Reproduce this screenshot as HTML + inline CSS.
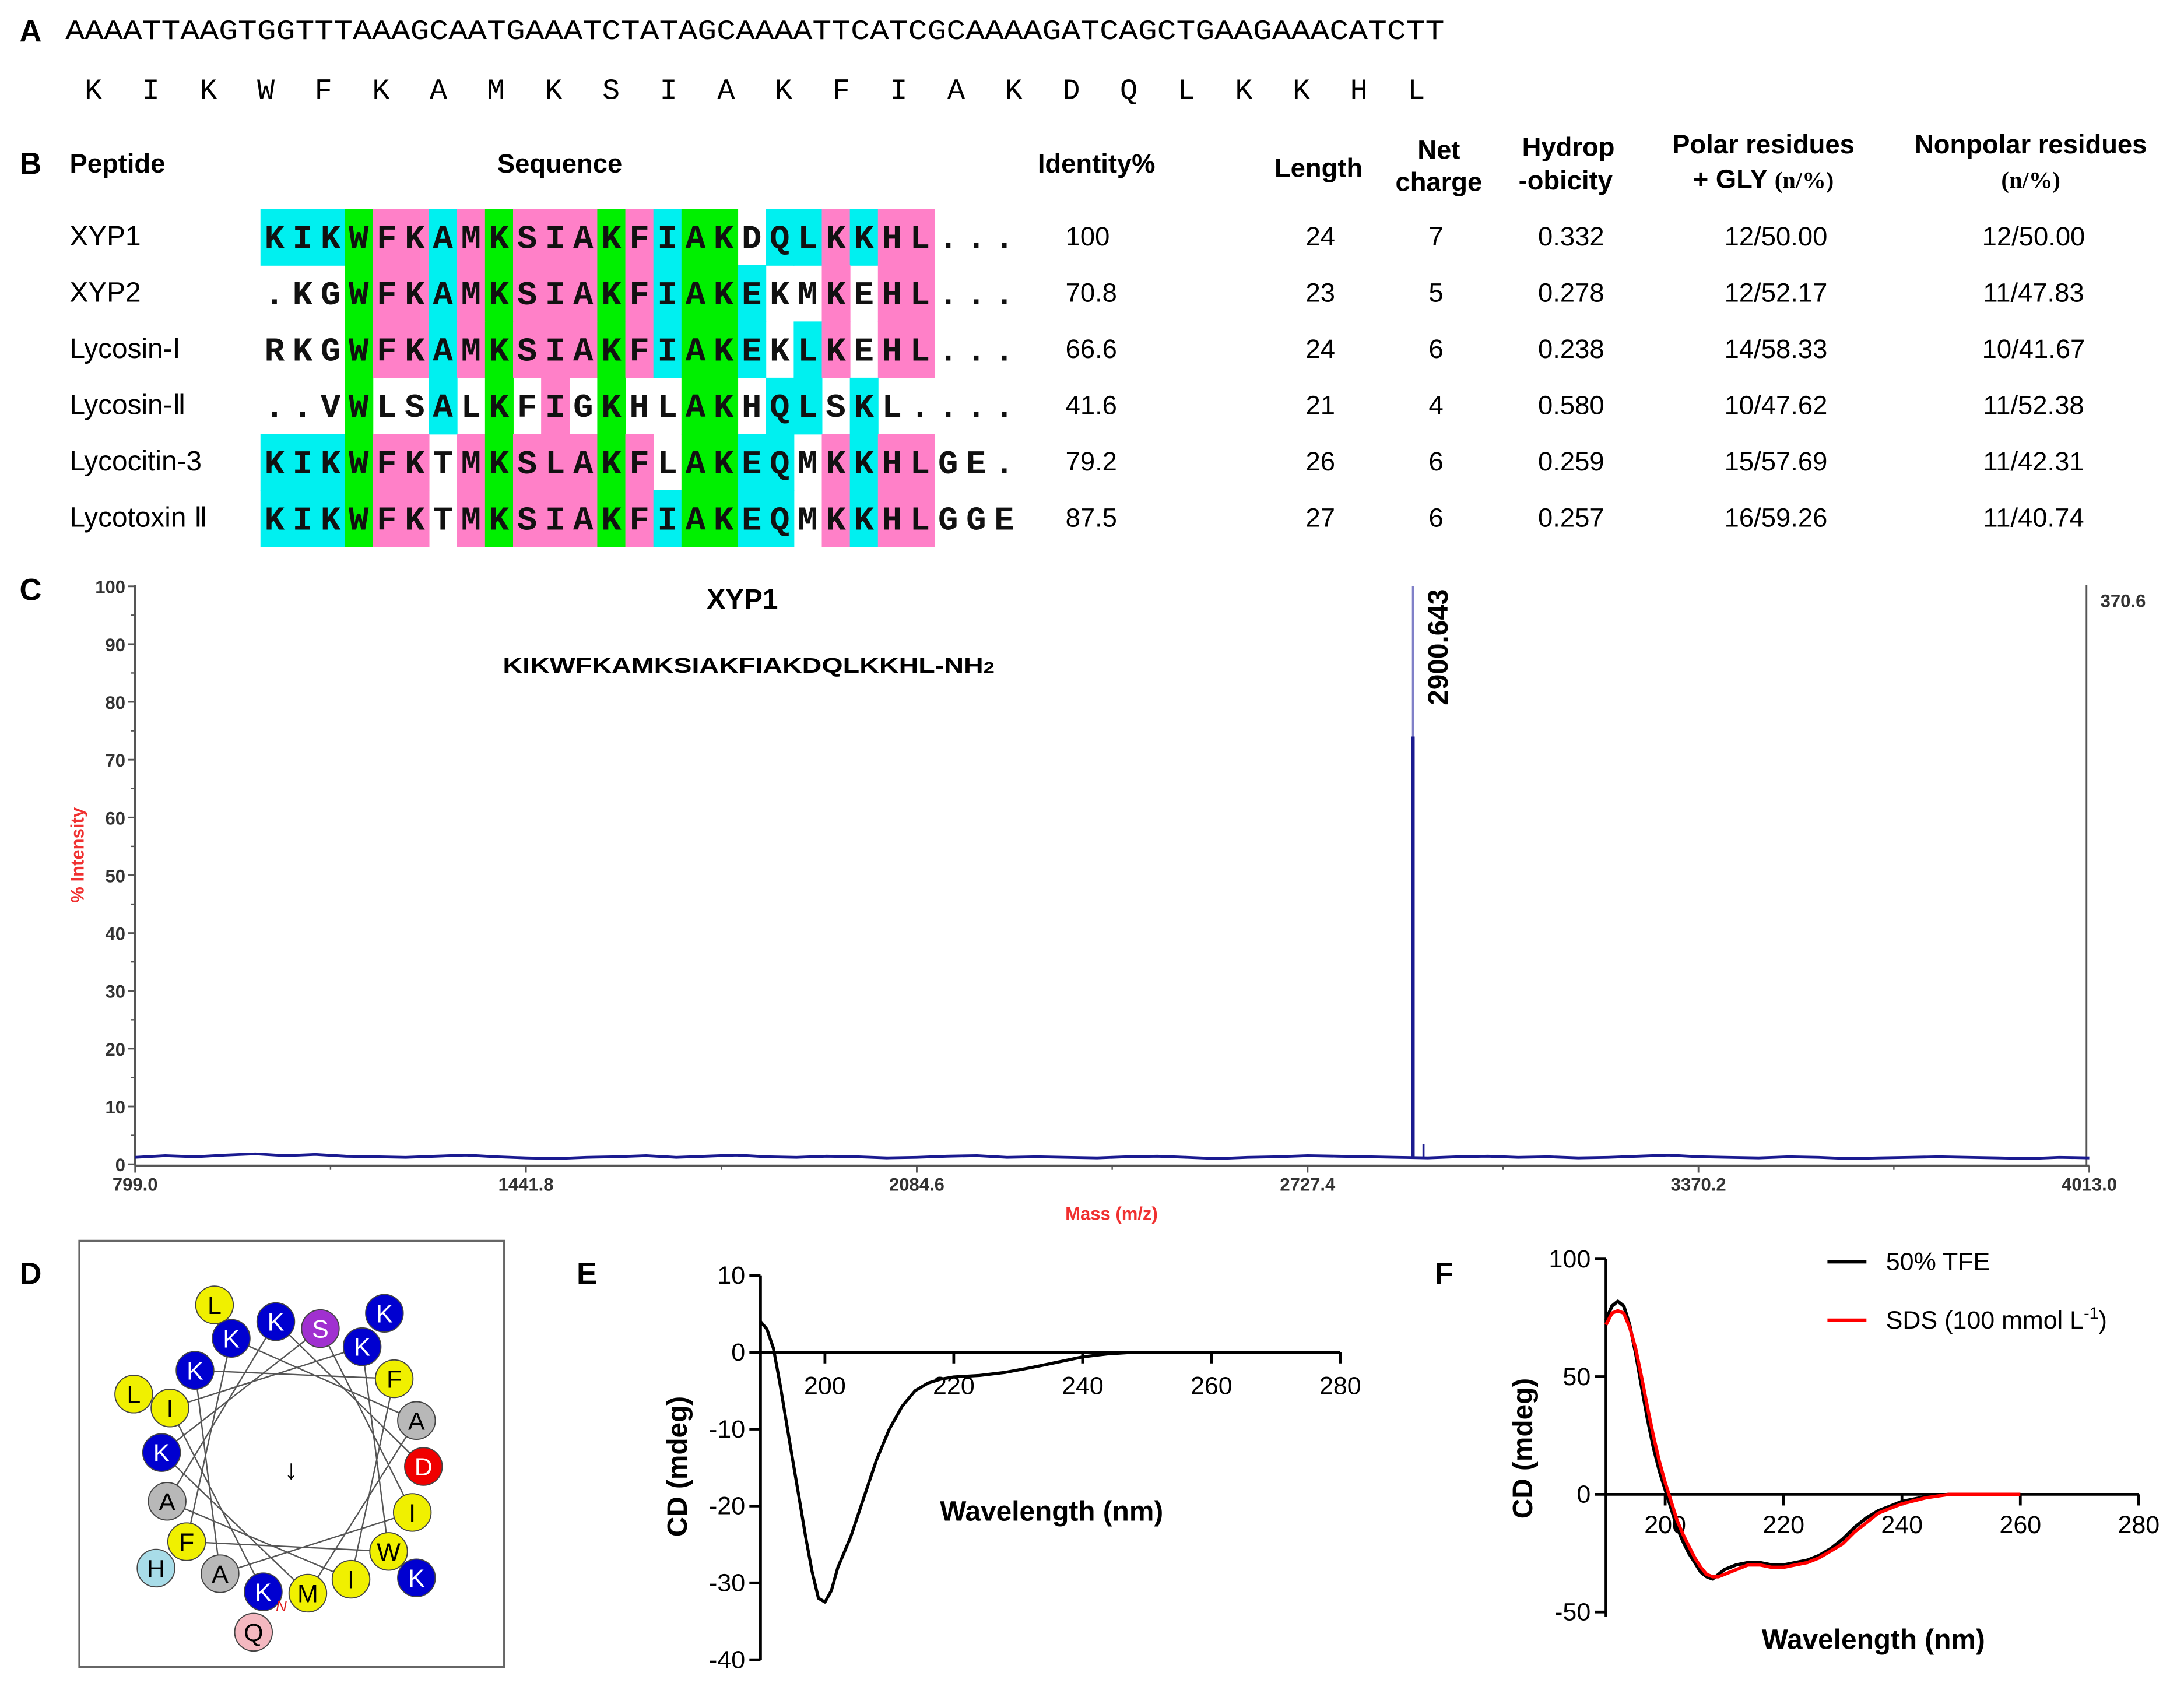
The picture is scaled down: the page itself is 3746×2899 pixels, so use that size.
<!DOCTYPE html>
<html><head><meta charset="utf-8">
<style>
html,body{margin:0;padding:0;background:#fff;}
svg{display:block;}
text{font-family:"Liberation Sans",Arial,sans-serif;}
.mono{font-family:"Liberation Mono","DejaVu Sans Mono",monospace;}
</style></head>
<body>
<svg id="fig" xmlns="http://www.w3.org/2000/svg" width="3746" height="2899" viewBox="0 0 1568 1213.5" preserveAspectRatio="none">
<rect width="1568" height="1214" fill="#fff"/>
<g>
<text x="14" y="30" font-size="22" font-weight="bold">A</text>
<text class="mono" x="47" y="28" font-size="20" textLength="990" lengthAdjust="spacingAndGlyphs">AAAATTAAGTGGTTTAAAGCAATGAAATCTATAGCAAAATTCATCGCAAAAGATCAGCTGAAGAAACATCTT</text>
<g id="protA"></g>
</g>
<g font-weight="bold">
<text x="14" y="125" font-size="22">B</text>
<text x="50" y="124" font-size="19">Peptide</text>
<text x="357" y="124" font-size="19">Sequence</text>
<text x="745" y="124" font-size="19">Identity%</text>
<text x="915" y="127" font-size="19">Length</text>
<text x="1033" y="114" font-size="19" text-anchor="middle"><tspan x="1033">Net</tspan><tspan x="1033" dy="23">charge</tspan></text>
<text x="1126" y="112" font-size="19" text-anchor="middle"><tspan x="1126">Hydrop</tspan><tspan x="1124" dy="24">-obicity</tspan></text>
<text x="1266" y="110" font-size="19" text-anchor="middle"><tspan x="1266">Polar residues</tspan><tspan x="1266" dy="25">+ GLY <tspan font-family="Liberation Serif" font-size="17">(n/%)</tspan></tspan></text>
<text x="1458" y="110" font-size="19" text-anchor="middle"><tspan x="1458">Nonpolar residues</tspan><tspan x="1458" dy="25" font-family="Liberation Serif" font-size="17">(n/%)</tspan></text>
<g id="alignment" font-weight="normal"></g>
</g>
<g id="panelC">
<text x="14" y="431" font-size="22" font-weight="bold">C</text>
<text x="533" y="437" font-size="20" font-weight="bold" text-anchor="middle">XYP1</text>
<text x="361" y="483" font-size="15" font-weight="bold" textLength="353" lengthAdjust="spacingAndGlyphs">KIKWFKAMKSIAKFIAKDQLKKHL-NH<tspan font-size="11">2</tspan></text>
<text transform="translate(60,614) rotate(-90)" font-size="13" font-weight="bold" fill="#f03030" text-anchor="middle">% Intensity</text>
<text x="798" y="876" font-size="13" font-weight="bold" fill="#f03030" text-anchor="middle">Mass (m/z)</text>
<text x="1508" y="436" font-size="13" font-weight="bold" fill="#333">370.6</text>
</g>
<g id="panelD">
<text x="14" y="922" font-size="22" font-weight="bold">D</text>
<rect x="57" y="891" width="305" height="306" fill="none" stroke="#666" stroke-width="1.5"/>
<text x="209" y="1062" font-size="20" text-anchor="middle">↓</text>
</g>
<g id="panelE">
<text x="414" y="922" font-size="22" font-weight="bold">E</text>
<text transform="translate(493,1053) rotate(-90)" font-size="20" font-weight="bold" text-anchor="middle">CD (mdeg)</text>
<text x="755" y="1092" font-size="20" font-weight="bold" text-anchor="middle">Wavelength (nm)</text>
</g>
<g id="panelF">
<text x="1030" y="922" font-size="22" font-weight="bold">F</text>
<text transform="translate(1100,1040) rotate(-90)" font-size="20" font-weight="bold" text-anchor="middle">CD (mdeg)</text>
<text x="1345" y="1184" font-size="20" font-weight="bold" text-anchor="middle">Wavelength (nm)</text>
<line x1="1312" y1="906" x2="1340" y2="906" stroke="#000" stroke-width="2.5"/>
<text x="1354" y="912" font-size="18">50% TFE</text>
<line x1="1312" y1="948" x2="1340" y2="948" stroke="#f00" stroke-width="2.5"/>
<text x="1354" y="954" font-size="18">SDS (100 mmol L<tspan font-size="12" dy="-7">-1</tspan><tspan dy="7">)</tspan></text>
</g>
</svg>
<script>
const proteinA = ["K","I","K","W","F","K","A","M","K","S","I","A","K","F","I","A","K","D","Q","L","K","K","H","L"];
const peptides = ["XYP1","XYP2","Lycosin-Ⅰ","Lycosin-Ⅱ","Lycocitin-3","Lycotoxin Ⅱ"];
const sequences = [
 "KIKWFKAMKSIAKFIAKDQLKKHL...",
 ".KGWFKAMKSIAKFIAKEKMKEHL...",
 "RKGWFKAMKSIAKFIAKEKLKEHL...",
 "..VWLSALKFIGKHLAKHQLSKL....",
 "KIKWFKTMKSLAKFLAKEQMKKHLGE.",
 "KIKWFKTMKSIAKFIAKEQMKKHLGGE"];
const shading = [
 "cccgppcpgpppgpcgg.cc pcpp...",
 "...gppcpgpppgpcggc..p.pp...",
 "...gppcpgpppgpcggc.cp.pp...",
 "...g..c.g.p.g..gg.cc.c.....",
 "cccgpp.pgpppgp.ggcc.pcpp...",
 "cccgpp.pgpppgpcggcc.pcpp..."];
const identity = ["100","70.8","66.6","41.6","79.2","87.5"];
const lengths = ["24","23","24","21","26","27"];
const netCharge = ["7","5","6","4","6","6"];
const hydrophobicity = ["0.332","0.278","0.238","0.580","0.259","0.257"];
const polar = ["12/50.00","12/52.17","14/58.33","10/47.62","15/57.69","16/59.26"];
const nonpolar = ["12/50.00","11/47.83","10/41.67","11/52.38","11/42.31","11/40.74"];

const msXTicks = [799.0,1441.8,2084.6,2727.4,3370.2,4013.0];
const msYTicks = [0,10,20,30,40,50,60,70,80,90,100];
const msPeakMass = [2900.643, 2918.0];
const msPeakIntensity = [100, 3.5];
const msBaseline = [1.2,1.5,1.3,1.6,1.8,1.5,1.7,1.4,1.3,1.2,1.4,1.6,1.3,1.1,1.0,1.2,1.3,1.5,1.2,1.4,1.6,1.3,1.2,1.4,1.3,1.1,1.2,1.4,1.5,1.2,1.3,1.2,1.1,1.3,1.4,1.2,1.0,1.2,1.3,1.5,1.4,1.3,1.2,1.1,1.3,1.4,1.2,1.3,1.1,1.2,1.4,1.6,1.3,1.2,1.1,1.3,1.2,1.0,1.1,1.2,1.3,1.2,1.1,1.0,1.2,1.1];

const eWave = [190,191,192,193,194,195,196,197,198,199,200,201,202,204,206,208,210,212,214,216,218,220,224,228,232,236,240,244,248,252,260];
const eCD = [4,3,0.5,-4,-9,-14,-19,-24,-28.5,-32,-32.5,-31,-28,-24,-19,-14,-10,-7,-5,-4,-3.5,-3.2,-3,-2.6,-2,-1.3,-0.6,-0.2,0,0,0];
const eXTicks = [200,220,240,260,280];
const eYTicks = [10,0,-10,-20,-30,-40];

const fWave = [190,191,192,193,194,195,196,197,198,199,200,201,202,203,204,205,206,207,208,209,210,212,214,216,218,220,222,224,226,228,230,232,234,236,238,240,244,248,252,256,260];
const fTFE = [74,80,82,80,72,60,46,32,20,10,2,-6,-14,-20,-25,-29,-33,-35,-36,-34,-32,-30,-29,-29,-30,-30,-29,-28,-26,-23,-19,-14,-10,-7,-5,-3,-1,0,0,0,0];
const fSDS = [72,77,78,77,71,62,50,37,25,14,5,-3,-11,-17,-22,-27,-31,-34,-35,-35,-34,-32,-30,-30,-31,-31,-30,-29,-27,-24,-21,-16,-12,-8,-6,-4,-1.5,0,0,0,0];
const fXTicks = [200,220,240,260,280];
const fYTicks = [100,50,0,-50];

const wheelResidues = ["K","I","K","W","F","K","A","M","K","S","I","A","K","F","I","A","K","D","Q","L","K","K","H","L"];
const wheelColors = ["#0000d0","#f0f000","#0000d0","#f0f000","#f0f000","#0000d0","#b8b8b8","#f0f000","#0000d0","#a030d0","#f0f000","#b8b8b8","#0000d0","#f0f000","#f0f000","#b8b8b8","#0000d0","#f00000","#f4b8c0","#f0f000","#0000d0","#0000d0","#a8dce8","#f0f000"];

const NS="http://www.w3.org/2000/svg";
function mk(tag, attrs, parent){const e=document.createElementNS(NS,tag);for(const k in attrs)e.setAttribute(k,attrs[k]);parent.appendChild(e);return e;}

const protA=document.getElementById('protA');
proteinA.forEach((aa,i)=>{
  const t=mk('text',{x:67+i*41.3,y:71,'font-size':21,'text-anchor':'middle','class':'mono'},protA);
  
  
  t.textContent=aa;
});

const al=document.getElementById('alignment');
const cellW=20.15, seqX=187, rowTop=150, rowH=40.4;
const colMap={c:"#00f0f0",g:"#00f000",p:"#ff80c8"};
sequences.forEach((seq,r)=>{
  const sh=shading[r].replace(/ /g,'');
  for(let i=0;i<seq.length;i++){
    const c=sh[i];
    if(colMap[c]){
      const rc=mk('rect',{x:seqX+i*cellW,y:rowTop+r*rowH,width:cellW+0.4,height:rowH+0.4,fill:colMap[c]},al);
      
      
    }
  }
});
sequences.forEach((seq,r)=>{
  const y=rowTop+r*rowH+rowH/2+8;
  for(let i=0;i<seq.length;i++){
    const t=mk('text',{x:seqX+i*cellW+cellW/2,y:y,'font-size':24,'font-weight':'bold','text-anchor':'middle','class':'mono',fill:'#111'},al);
    
    
    t.textContent=seq[i];
  }
  const cols=[[50,peptides[r],'start','peptide-name'],[765,identity[r],'start','identity-value'],[948,lengths[r],'middle','length-value'],[1031,netCharge[r],'middle','net-charge-value'],[1128,hydrophobicity[r],'middle','hydrophobicity-value'],[1275,polar[r],'middle','polar-value'],[1460,nonpolar[r],'middle','nonpolar-value']];
  cols.forEach(([x,txt,anc,nm])=>{
    const t=mk('text',{x:x,y:y-2,'font-size':nm==='peptide-name'?20:19,'text-anchor':anc},al);
    
    
    t.textContent=txt;
  });
});

const C=document.getElementById('panelC');
const msX=m=>97+(m-799)/(4013-799)*1403;
const msY=v=>836-v*4.15;
mk('line',{x1:97,y1:420,x2:97,y2:837,stroke:'#555','stroke-width':1.5},C);
mk('line',{x1:97,y1:837,x2:1500,y2:837,stroke:'#555','stroke-width':1.5},C);
mk('line',{x1:1498,y1:420,x2:1498,y2:837,stroke:'#555','stroke-width':1.2},C);
msYTicks.forEach(v=>{
  const l=mk('line',{x1:92,y1:msY(v),x2:97,y2:msY(v),stroke:'#555','stroke-width':1.2},C);
  
  
  if(v<100){mk('line',{x1:94,y1:msY(v+5),x2:97,y2:msY(v+5),stroke:'#555','stroke-width':1},C);}
  const t=mk('text',{x:90,y:msY(v)+5,'font-size':13,'font-weight':'bold','text-anchor':'end',fill:'#333'},C);
  
  
  t.textContent=v;
});
msXTicks.forEach((m,i)=>{
  const l=mk('line',{x1:msX(m),y1:837,x2:msX(m),y2:842,stroke:'#555','stroke-width':1.2},C);
  
  
  if(i<msXTicks.length-1){const mid=(m+msXTicks[i+1])/2;mk('line',{x1:msX(mid),y1:837,x2:msX(mid),y2:840,stroke:'#555','stroke-width':1},C);}
  const t=mk('text',{x:msX(m),y:855,'font-size':13,'font-weight':'bold','text-anchor':'middle',fill:'#333'},C);
  
  
  t.textContent=m.toFixed(1);
});
let bd='';
msBaseline.forEach((v,i)=>{const m=799+(4013-799)*i/(msBaseline.length-1);bd+=(i?'L':'M')+msX(m).toFixed(1)+','+msY(v).toFixed(1);});
const bl=mk('path',{d:bd,fill:'none',stroke:'#1a1a90','stroke-width':2},C);


msPeakMass.forEach((m,i)=>{
  const top=msY(msPeakIntensity[i]);
  if(i===0){
    const p1=mk('line',{x1:msX(m),y1:top,x2:msX(m),y2:msY(74),stroke:'#8080c8','stroke-width':1.5},C);
    
    
    const p2=mk('line',{x1:msX(m),y1:msY(74),x2:msX(m),y2:msY(1),stroke:'#1a1a90','stroke-width':2.5},C);
    
    
    const t=mk('text',{transform:`translate(${msX(m)+25},${top+2}) rotate(-90)`,'font-size':20,'font-weight':'bold','text-anchor':'end'},C);
    
    
    t.textContent=m.toFixed(3);
  } else {
    const p=mk('line',{x1:msX(m),y1:top,x2:msX(m),y2:msY(1),stroke:'#1a1a90','stroke-width':1.5},C);
    
    
  }
});

const D=document.getElementById('panelD');
const inner=[[189,1143],[122,1011],[260,967],[279,1114],[134,1107],[166,961],[299,1020],[221,1144],[116,1043],[230,954],[296,1086],[158,1130],[140,984],[283,990],[252,1134],[120,1078],[198,949],[304,1053],[182,1172],[96,1001],[276,943],[299,1133],[112,1126],[154,937]];
for(let i=0;i<17;i++){
  const l=mk('line',{x1:inner[i][0],y1:inner[i][1],x2:inner[i+1][0],y2:inner[i+1][1],stroke:'#555','stroke-width':1},D);
  
  
}
const drawOrder=[18,19,20,21,22,23,17,16,15,14,13,12,11,10,9,8,7,6,5,4,3,2,1,0];
drawOrder.forEach(i=>{
  const [x,y]=inner[i];
  const c=mk('circle',{cx:x,cy:y,r:13.5,fill:wheelColors[i],stroke:'#444','stroke-width':0.8},D);
  
  
  const dark=['#0000d0','#a030d0','#f00000'].includes(wheelColors[i]);
  const t=mk('text',{x:x,y:y+6.5,'font-size':18,'text-anchor':'middle',fill:dark?'#fff':'#000'},D);
  
  
  t.textContent=wheelResidues[i];
});
const nT=mk('text',{x:198,y:1157,'font-size':11,fill:'#e02020','font-style':'italic'},D);


nT.textContent='N';

const E=document.getElementById('panelE');
const eX=w=>546+(w-190)*4.625;
const eY=v=>971-v*5.52;
mk('line',{x1:546,y1:eY(10),x2:546,y2:eY(-40),stroke:'#000','stroke-width':2},E);
mk('line',{x1:546,y1:971,x2:eX(280),y2:971,stroke:'#000','stroke-width':2},E);
eYTicks.forEach(v=>{
  const l=mk('line',{x1:538,y1:eY(v),x2:546,y2:eY(v),stroke:'#000','stroke-width':2},E);
  
  
  const t=mk('text',{x:535,y:eY(v)+6,'font-size':18,'text-anchor':'end'},E);
  
  
  t.textContent=v;
});
eXTicks.forEach(w=>{
  const l=mk('line',{x1:eX(w),y1:971,x2:eX(w),y2:979,stroke:'#000','stroke-width':2},E);
  
  
  const t=mk('text',{x:eX(w),y:1001,'font-size':18,'text-anchor':'middle'},E);
  
  
  t.textContent=w;
});
let ed='';eWave.forEach((w,i)=>{ed+=(i?'L':'M')+eX(w).toFixed(1)+','+eY(eCD[i]).toFixed(1);});
const ep=mk('path',{d:ed,fill:'none',stroke:'#000','stroke-width':2.2,'stroke-linejoin':'round'},E);



const F=document.getElementById('panelF');
const fX=w=>1153+(w-190)*4.25;
const fY=v=>1073-v*1.69;
mk('line',{x1:1153,y1:fY(100),x2:1153,y2:fY(-52),stroke:'#000','stroke-width':2},F);
mk('line',{x1:1153,y1:1073,x2:fX(280),y2:1073,stroke:'#000','stroke-width':2},F);
fYTicks.forEach(v=>{
  const l=mk('line',{x1:1145,y1:fY(v),x2:1153,y2:fY(v),stroke:'#000','stroke-width':2},F);
  
  
  const t=mk('text',{x:1142,y:fY(v)+6,'font-size':18,'text-anchor':'end'},F);
  
  
  t.textContent=v;
});
fXTicks.forEach(w=>{
  const l=mk('line',{x1:fX(w),y1:1073,x2:fX(w),y2:1081,stroke:'#000','stroke-width':2},F);
  
  
  const t=mk('text',{x:fX(w),y:1101,'font-size':18,'text-anchor':'middle'},F);
  
  
  t.textContent=w;
});
function fPath(vals){let d='';fWave.forEach((w,i)=>{d+=(i?'L':'M')+fX(w).toFixed(1)+','+fY(vals[i]).toFixed(1);});return d;}
const fb=mk('path',{d:fPath(fTFE),fill:'none',stroke:'#000','stroke-width':2.4,'stroke-linejoin':'round'},F);


const fr=mk('path',{d:fPath(fSDS),fill:'none',stroke:'#f00','stroke-width':2.4,'stroke-linejoin':'round'},F);


</script>
</body></html>
